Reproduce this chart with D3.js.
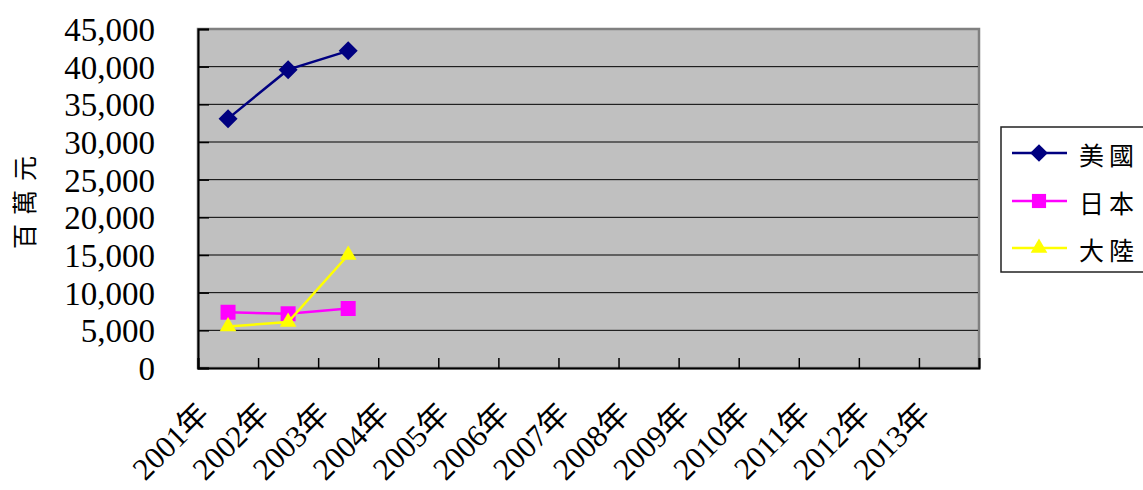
<!DOCTYPE html>
<html>
<head>
<meta charset="utf-8">
<script src="https://cdn.jsdelivr.net/npm/d3@7"></script>
<style>
  body { margin: 0; background: #fff; }
  svg { display: block; }
</style>
</head>
<body>
<div id="chart"></div>
<script>
const years = ["2001年", "2002年", "2003年", "2004年", "2005年", "2006年", "2007年",
  "2008年", "2009年", "2010年", "2011年", "2012年", "2013年"];
const usaValues = [33100, 39600, 42100];
const japanValues = [7400, 7200, 7900];
const chinaValues = [5500, 6100, 15000];
const yTicks = [0, 5000, 10000, 15000, 20000, 25000, 30000, 35000, 40000, 45000];

const series = [
  { name: "美國", values: usaValues, color: "#000080", symbol: d3.symbolDiamond2 },
  { name: "日本", values: japanValues, color: "#FF00FF", symbol: d3.symbolSquare },
  { name: "大陸", values: chinaValues, color: "#FFFF00", symbol: d3.symbolTriangle }
];

const W = 1143, H = 490;
const plot = { left: 198, right: 979, top: 29, bottom: 368 };

const svg = d3.select("#chart").append("svg")
  .attr("width", W)
  .attr("height", H);

const x = d3.scaleBand()
  .domain(years)
  .range([plot.left, plot.right]);

const y = d3.scaleLinear()
  .domain([0, 45000])
  .range([plot.bottom, plot.top]);

// plot background
svg.append("rect")
  .attr("x", plot.left)
  .attr("y", plot.top)
  .attr("width", plot.right - plot.left)
  .attr("height", plot.bottom - plot.top)
  .attr("fill", "#C0C0C0")
  .attr("stroke", "#808080")
  .attr("stroke-width", 2.5);

// gridlines
svg.append("g")
  .selectAll("line")
  .data(yTicks.filter(d => d > 0 && d < 45000))
  .join("line")
  .attr("x1", plot.left)
  .attr("x2", plot.right - 1)
  .attr("y1", d => y(d))
  .attr("y2", d => y(d))
  .attr("stroke", "#000")
  .attr("stroke-width", 1);

// y axis
const yAxis = svg.append("g")
  .attr("transform", `translate(${plot.left},0)`)
  .call(d3.axisRight(y).tickValues(yTicks).tickSize(11).tickFormat(""));
yAxis.select(".domain").attr("stroke", "#000").attr("stroke-width", 2);
yAxis.selectAll(".tick line").attr("stroke", "#000").attr("stroke-width", 1.5);

svg.append("g")
  .selectAll("text")
  .data(yTicks)
  .join("text")
  .attr("x", 155)
  .attr("y", d => y(d) + 1)
  .attr("text-anchor", "end")
  .attr("dominant-baseline", "central")
  .attr("font-family", "Liberation Serif, serif")
  .attr("font-size", 33)
  .attr("fill", "#000")
  .text(d => d3.format(",")(d));

// x axis
const xAxis = svg.append("g")
  .attr("transform", `translate(0,${plot.bottom})`)
  .call(d3.axisTop(d3.scaleLinear().domain([0, years.length]).range([plot.left, plot.right]))
    .ticks(years.length).tickSize(10).tickFormat(""));
xAxis.select(".domain").attr("stroke", "#000").attr("stroke-width", 2);
xAxis.selectAll(".tick line").attr("stroke", "#000").attr("stroke-width", 1.5);

svg.append("g")
  .selectAll("text")
  .data(years)
  .join("text")
  .attr("text-anchor", "end")
  .attr("transform", d => `translate(${x(d) + x.bandwidth() / 2 - 17},${plot.bottom + 48}) rotate(-45)`)
  .attr("font-family", "Liberation Serif, 'Noto Sans CJK TC', serif")
  .attr("font-size", 31)
  .attr("fill", "#000")
  .text(d => d);

// y axis title
svg.append("text")
  .attr("transform", `translate(34,198) rotate(-90)`)
  .attr("text-anchor", "middle")
  .attr("font-family", "'Noto Sans CJK TC', sans-serif")
  .attr("font-size", 25)
  .attr("letter-spacing", 9)
  .attr("fill", "#000")
  .text("百萬元");

// lines and markers
const line = d3.line()
  .x((d, i) => x(years[i]) + x.bandwidth() / 2)
  .y(d => y(d));

const sGroups = svg.append("g")
  .selectAll("g")
  .data(series)
  .join("g");

sGroups.append("path")
  .attr("fill", "none")
  .attr("stroke", d => d.color)
  .attr("stroke-width", 2.5)
  .attr("d", d => line(d.values));

sGroups.each(function (s) {
  d3.select(this).selectAll("path.marker")
    .data(s.values)
    .join("path")
    .attr("class", "marker")
    .attr("transform", (d, i) => `translate(${x(years[i]) + x.bandwidth() / 2},${y(d)})`)
    .attr("d", d3.symbol().type(s.symbol).size(s.symbol === d3.symbolTriangle ? 120 : (s.symbol === d3.symbolSquare ? 225 : 230)))
    .attr("fill", s.color);
});

// legend
const legend = svg.append("g");
legend.append("rect")
  .attr("x", 1001)
  .attr("y", 127)
  .attr("width", 160)
  .attr("height", 145)
  .attr("fill", "#fff")
  .attr("stroke", "#222")
  .attr("stroke-width", 1.5);

const rowY = [153, 201, 248];
const items = legend.selectAll("g.item")
  .data(series)
  .join("g")
  .attr("class", "item")
  .attr("transform", (d, i) => `translate(0,${rowY[i]})`);

items.append("line")
  .attr("x1", 1012)
  .attr("x2", 1067)
  .attr("stroke", d => d.color)
  .attr("stroke-width", 2.5);

items.append("path")
  .attr("transform", "translate(1039,0)")
  .attr("d", d => d3.symbol().type(d.symbol).size(d.symbol === d3.symbolTriangle ? 120 : 200)())
  .attr("fill", d => d.color);

items.append("text")
  .attr("x", 1079)
  .attr("y", 1)
  .attr("dominant-baseline", "central")
  .attr("font-family", "'Noto Sans CJK TC', sans-serif")
  .attr("font-size", 25)
  .attr("letter-spacing", 5)
  .attr("fill", "#000")
  .text(d => d.name);
</script>
</body>
</html>
